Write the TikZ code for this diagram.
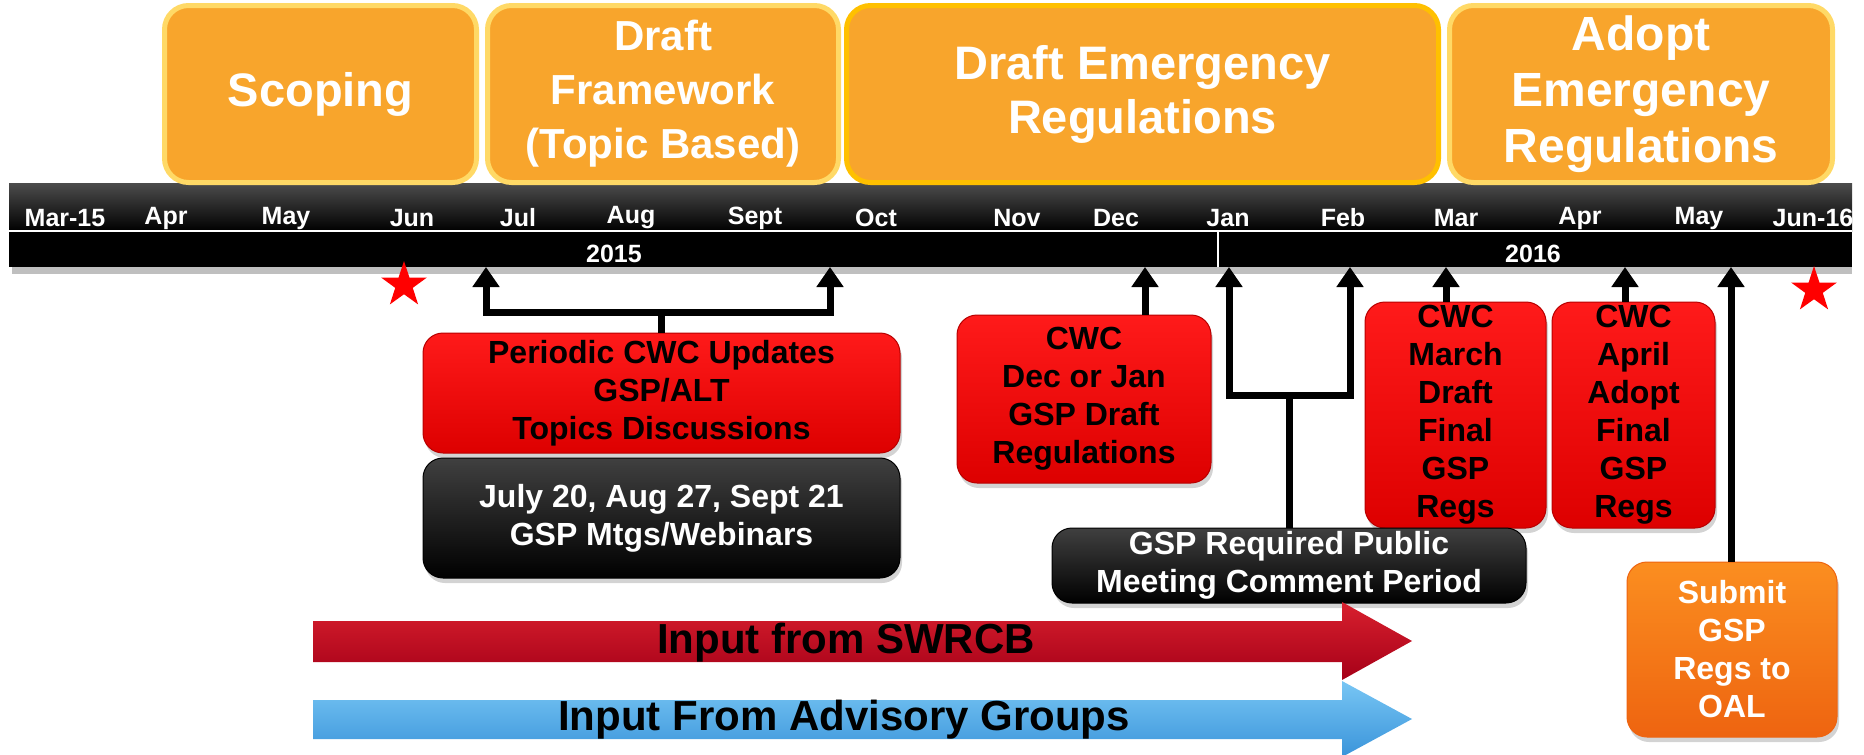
\documentclass[tikz,border=0pt]{standalone}
\usepackage{fontspec}
\setmainfont{Liberation Sans}
\usetikzlibrary{arrows.meta,shapes.geometric,shadows}
\definecolor{phasefill}{HTML}{F8A52C}
\definecolor{phaseedge}{HTML}{FFD966}
\definecolor{emergedge}{HTML}{FFC000}
\definecolor{cwctop}{HTML}{FF1A1A}
\definecolor{cwcbot}{HTML}{DD0000}
\definecolor{cwcedge}{HTML}{B80000}
\definecolor{oaltop}{HTML}{FB8E20}
\definecolor{oalbot}{HTML}{EE6410}
\definecolor{swrcbtop}{HTML}{D8202E}
\definecolor{swrcbbot}{HTML}{A60018}
\definecolor{advtop}{HTML}{78C6F4}
\definecolor{advbot}{HTML}{3A94DA}
\tikzset{phase/.style = {draw=phaseedge, fill=phasefill, line width=2.5pt, rounded corners=12pt, text=white, align=center, inner sep=0}}
\tikzset{month/.style = {text=white, font=\fontsize{12.5}{14}\selectfont\bfseries}}
\tikzset{cwcbox/.style = {rounded corners=10pt, top color=cwctop, bottom color=cwcbot, draw=cwcedge, line width=0.5pt, align=center, inner sep=0, font=\fontsize{16}{19}\selectfont\bfseries, drop shadow={opacity=.35, shadow xshift=1pt, shadow yshift=-2.5pt}}}
\tikzset{mtgbox/.style = {cwcbox, top color=black!75, bottom color=black, draw=black, text=white}}
\tikzset{oalbox/.style = {cwcbox, top color=oaltop, bottom color=oalbot, draw=oalbot, text=white}}
\tikzset{stem/.style = {line width=3.5pt}}
\tikzset{uparrow/.style = {stem, -{Triangle[width=13pt,length=10pt]}}}
\tikzset{redstar/.style = {star, star points=5, star point ratio=2.6, fill=red, minimum size=24pt, inner sep=0}}
\tikzset{inlab/.style = {font=\fontsize{21}{24}\selectfont\bfseries}}

\begin{document}
\begin{tikzpicture}[x=0.5pt, y=-0.5pt]
    \useasboundingbox (0,0) rectangle (1864,755);
    % timeline bar
    \fill[black!25] (12,267) rectangle (1852,274);
    \shade[top color=black!70, bottom color=black] (9,183) rectangle (1852,231);
    \fill[black] (9,231) rectangle (1852,267);
    \draw[white, line width=0.8pt] (9,231) -- (1852,231);
    \draw[white, line width=0.8pt] (1218,231) -- (1218,267);
    \foreach \mname/\mx [count=\i] in {Mar-15/65, Apr/166, May/286, Jun/412, Jul/518, Aug/631, Sept/755, Oct/876, Nov/1017, Dec/1116, Jan/1228, Feb/1343, Mar/1456, Apr/1580, May/1699, Jun-16/1813}
        \node[month] (mon\i) at (\mx,218) {\mname};
    \node[month] (y15) at (614,254) {2015};
    \node[month] (y16) at (1533,254) {2016};
    % phases
    \node[phase, minimum width=156pt, minimum height=88.5pt, font=\fontsize{23.5}{27}\selectfont\bfseries] (scope) at (320.5,94) {Scoping};
    \node[phase, minimum width=175.5pt, minimum height=88.5pt, font=\fontsize{21}{27}\selectfont\bfseries] (frame) at (663,94) {Draft\\Framework\\(Topic Based)};
    \node[phase, draw=emergedge, minimum width=296pt, minimum height=88.5pt, font=\fontsize{23.5}{27}\selectfont\bfseries] (draftreg) at (1142.5,94) {Draft Emergency\\Regulations};
    \node[phase, minimum width=191.5pt, minimum height=88.5pt, font=\fontsize{24}{28}\selectfont\bfseries] (adoptreg) at (1641,94) {Adopt\\Emergency\\Regulations};
    \node[redstar] (star1) at (404,285) {};
    \node[redstar] (star2) at (1814,290) {};
    % meetings
    \node[cwcbox, minimum width=238.5pt, minimum height=60pt] (upd) at (661.5,393) {Periodic CWC Updates\\GSP/ALT\\Topics Discussions};
    \node[mtgbox, minimum width=238.5pt, minimum height=60pt] (mtgs) at (661.5,518) {July 20, Aug 27, Sept 21\\GSP Mtgs/Webinars};
    \node[cwcbox, minimum width=127pt, minimum height=84pt] (dec) at (1084,399) {CWC\\Dec or Jan\\GSP Draft\\Regulations};
    \node[cwcbox, minimum width=90.5pt, minimum height=113pt] (mar) at (1455.5,415) {CWC\\March\\Draft\\Final\\GSP\\Regs};
    \node[cwcbox, minimum width=81.5pt, minimum height=113pt] (apr) at (1633.5,415) {CWC\\April\\Adopt\\Final\\GSP\\Regs};
    \node[mtgbox, minimum width=237pt, minimum height=37.5pt] (pub) at (1289,565.5) {GSP Required Public\\Meeting Comment Period};
    \node[oalbox, minimum width=105pt, minimum height=87.5pt] (oal) at (1732,649.5) {Submit\\GSP\\Regs to\\OAL};
    % arrows up to the bar
    \coordinate (julT) at (486,267);
    \coordinate (sepT) at (830,267);
    \coordinate (decT) at (1145,267);
    \coordinate (janT) at (1229,267);
    \coordinate (febT) at (1350,267);
    \coordinate (marT) at (1446,267);
    \coordinate (aprT) at (1625,267);
    \coordinate (oalT) at (1731,267);
    \draw[stem] (upd.north) -- (upd.north |- 0,312) coordinate (updj);
    \draw[uparrow] (updj) -| (julT);
    \draw[uparrow] (updj) -| (sepT);
    \draw[uparrow] (dec.north -| decT) -- (decT);
    \draw[stem] (pub.north) -- (pub.north |- 0,395) coordinate (pubj);
    \draw[uparrow] (pubj) -| (janT);
    \draw[uparrow] (pubj) -| (febT);
    \draw[uparrow] (mar.north -| marT) -- (marT);
    \draw[uparrow] (apr.north -| aprT) -- (aprT);
    \draw[uparrow] (oal.north -| oalT) -- (oalT);
    % input arrows
    \shade[top color=swrcbtop, bottom color=swrcbbot] (313,621) -- (1342,621) -- (1342,602) -- (1412,641) -- (1342,680) -- (1342,662) -- (313,662) -- cycle;
    \node[inlab] (swrcb) at (846,643) {Input from SWRCB};
    \shade[top color=advtop, bottom color=advbot] (313,700) -- (1342,700) -- (1342,681) -- (1412,719) -- (1342,757) -- (1342,739) -- (313,739) -- cycle;
    \node[inlab] (advis) at (844,720) {Input From Advisory Groups};
\end{tikzpicture}
\end{document}
